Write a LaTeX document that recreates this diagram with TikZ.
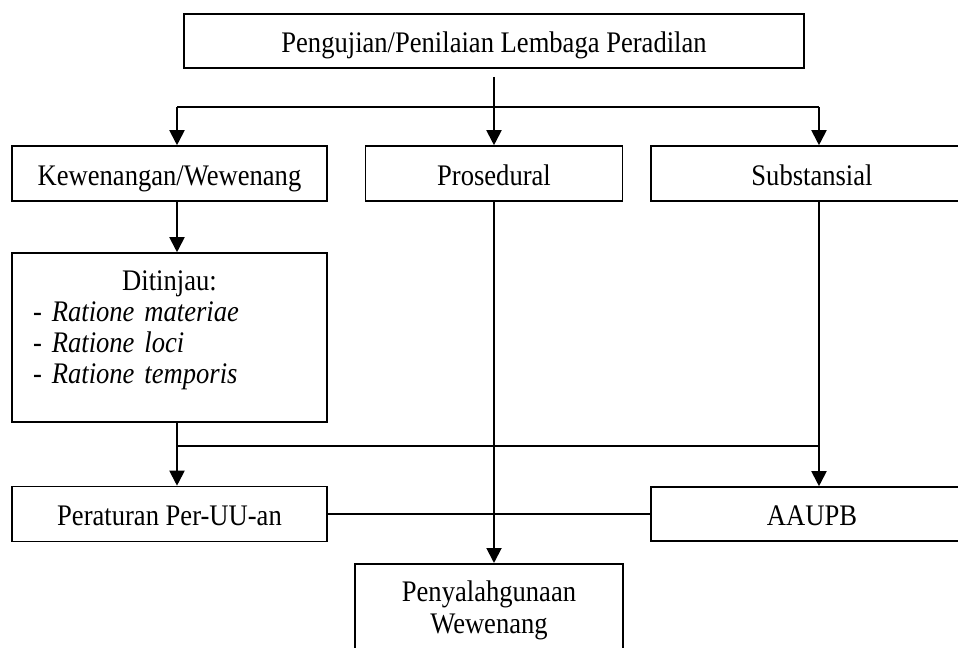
\documentclass[tikz,border=0pt]{standalone}
\usepackage{fontspec}
\setmainfont[FakeStretch=0.89]{Liberation Serif}
\usetikzlibrary{arrows.meta,positioning}

\begin{document}
\begin{tikzpicture}[
    x=0.02cm, y=-0.02cm,
    box/.style={rectangle, draw=black, line width=0.9pt, minimum height=1.1cm,
      inner sep=0pt, align=center, font=\fontsize{17}{17.6}\selectfont},
    single/.style={box, text height=0.48cm, text depth=0pt},
    line/.style={line width=1.1pt},
    >={Triangle[length=0.3cm, width=0.3cm]}
  ]
  \useasboundingbox (0,0) rectangle (958,648);
  \clip (0,0) rectangle (958,648);

  % Top
  \node[single, minimum width=12.4cm, minimum height=1.08cm] (uji) at (494,41)
    {Pengujian/Penilaian Lembaga Peradilan};

  % Second row
  \node[single, minimum width=6.3cm] (kew) at (169.5,173.5) {Kewenangan/Wewenang};
  \node[single, minimum width=5.14cm] (pros) at (494,173.5) {Prosedural};
  \node[single, minimum width=6.44cm] (subs) at (812,173.5) {Substansial};

  % Ditinjau
  \node[box, minimum width=6.3cm, minimum height=3.38cm, text width=5.46cm,
    align=left] (dit) at (169.5,337.5)
    {\makebox[\linewidth]{Ditinjau:}\\
     - \textit{Ratione materiae}\\
     - \textit{Ratione loci}\\
     - \textit{Ratione temporis}\\[-6pt]\mbox{}};

  % Bottom rows
  \node[single, minimum width=6.3cm] (per) at (169.5,514) {Peraturan Per-UU-an};
  \node[single, minimum width=6.44cm, minimum height=1.08cm] (aaupb) at (812,514) {AAUPB};
  \node[box, minimum width=5.36cm, minimum height=0pt, inner ysep=0.34cm,
    anchor=north, font=\fontsize{17}{18.2}\selectfont] (peny) at (489,563)
    {Penyalahgunaan\\Wewenang};

  % Forks
  \coordinate (fork) at (177,107);
  \coordinate (forkR) at (819,107);
  \coordinate (join) at (819,446);

  % Connections
  \draw[line, ->, shorten <=0.16cm] (uji) -- (pros);
  \draw[line] (fork) -- (forkR);
  \draw[line, ->] (fork) -- (fork |- kew.north);
  \draw[line, ->] (forkR) -- (forkR |- subs.north);
  \draw[line, ->] (fork |- kew.south) -- (fork |- dit.north);
  \draw[line, ->] (fork |- dit.south) -- (fork |- per.north);
  \draw[line] (fork |- join) -- (join);
  \draw[line, ->] (forkR |- subs.south) -- (forkR |- aaupb.north);
  \draw[line, ->] (pros.south) -- (pros.south |- peny.north);
  \draw[line] (per.east) -- (aaupb.west);

\end{tikzpicture}
\end{document}
